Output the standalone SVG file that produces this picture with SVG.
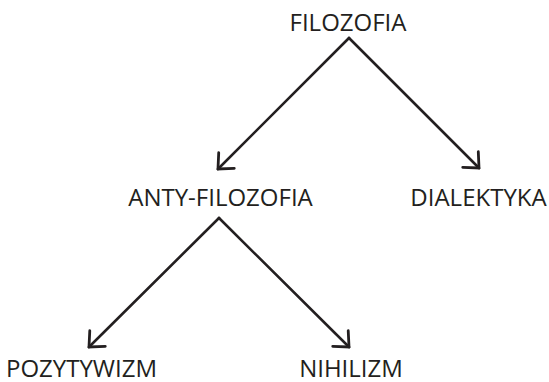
<svg xmlns="http://www.w3.org/2000/svg" width="549" height="382" viewBox="0 0 549 382">
<style>
text{font-family:"Open Sans","Noto Sans",sans-serif;font-size:24px;fill:#231f20;text-anchor:middle}
.c{stroke:#231f20;stroke-width:2.6;fill:none;stroke-linecap:round;stroke-linejoin:miter}
</style>
<defs>
<marker id="a" markerUnits="userSpaceOnUse" viewBox="-16 -14 18 28" refX="0" refY="0" markerWidth="18" markerHeight="28" orient="auto">
<path d="M-12,-11 L0,0 L-12,11" fill="none" stroke="#231f20" stroke-width="2.8" stroke-linecap="round"/>
</marker>
</defs>
<rect width="549" height="382" fill="#fff"/>
<g id="connectors">
<path class="c" d="M349,38 L218,169" marker-end="url(#a)"/>
<path class="c" d="M349,38 L479,168" marker-end="url(#a)"/>
<path class="c" d="M219,218 L89,347" marker-end="url(#a)"/>
<path class="c" d="M219,218 L349,347" marker-end="url(#a)"/>
</g>
<g id="filozofia"><text x="348" y="31">FILOZOFIA</text></g>
<g id="anty-filozofia"><text x="220.5" y="206">ANTY-FILOZOFIA</text></g>
<g id="dialektyka"><text x="478.5" y="206">DIALEKTYKA</text></g>
<g id="pozytywizm"><text x="81.5" y="377">POZYTYWIZM</text></g>
<g id="nihilizm"><text x="351" y="377">NIHILIZM</text></g>
</svg>
